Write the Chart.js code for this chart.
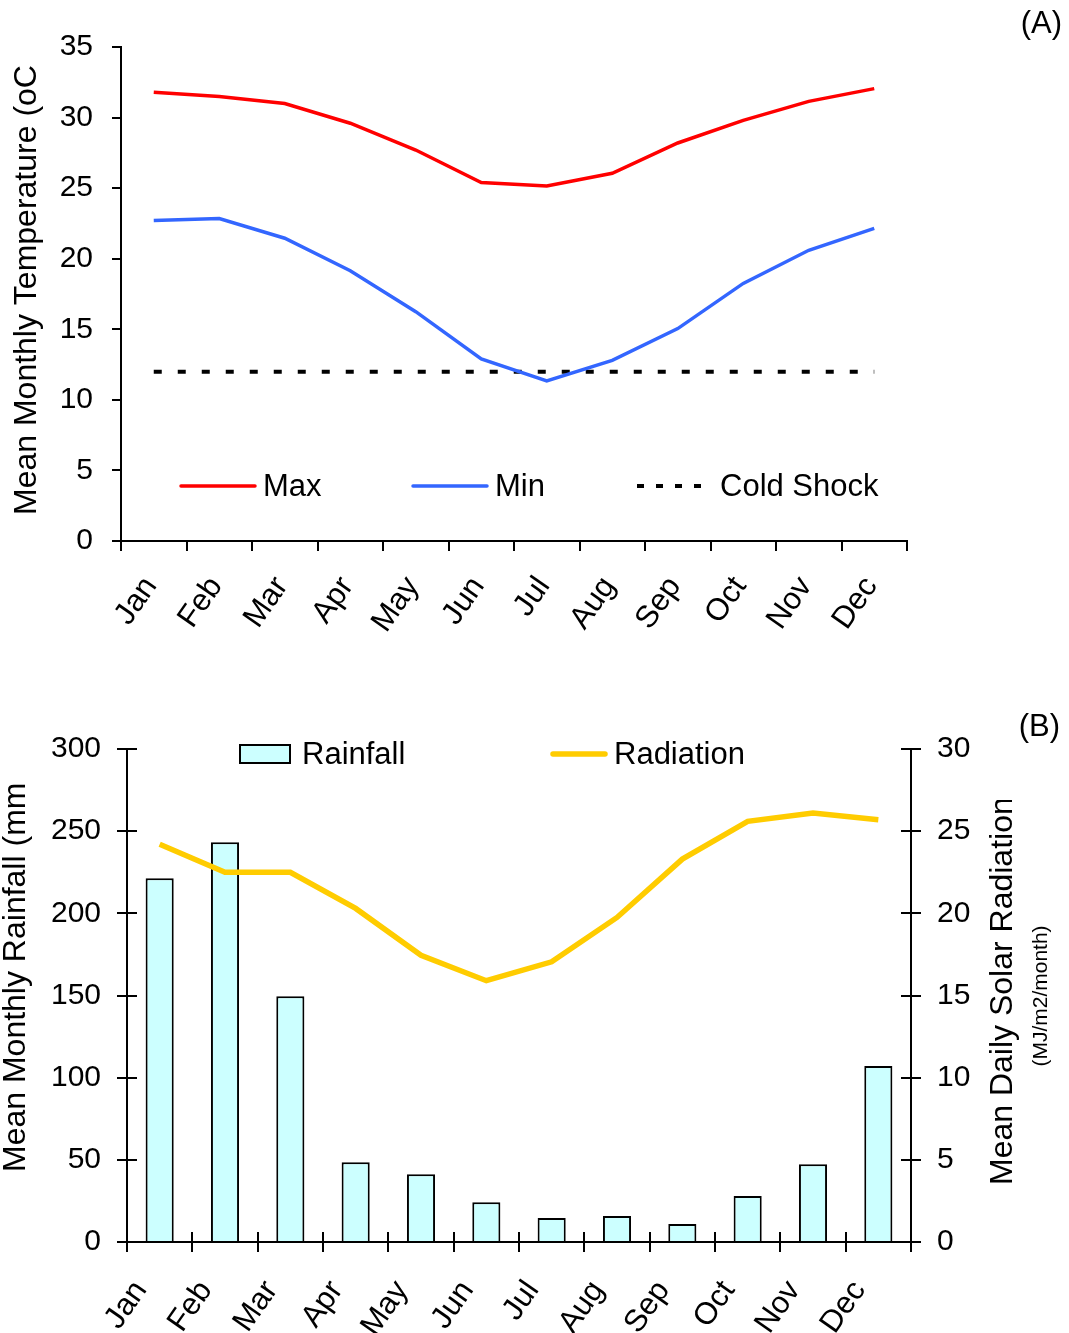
<!DOCTYPE html>
<html>
<head>
<meta charset="utf-8">
<script src="https://cdn.jsdelivr.net/npm/chart.js@4.4.1/dist/chart.umd.min.js"></script>
<style>
  html, body { margin: 0; padding: 0; background: #fff; }
  #wrap { position: relative; width: 1069px; height: 1333px; }
  .panel { position: absolute; left: 0; width: 1069px; }
</style>
</head>
<body>
<div id="wrap">
  <div class="panel" style="top:0;height:650px"><canvas id="tempChart"></canvas></div>
  <div class="panel" style="top:650px;height:683px"><canvas id="rainChart"></canvas></div>
</div>
<script>
// Monthly climate data
const months = ['Jan', 'Feb', 'Mar', 'Apr', 'May', 'Jun', 'Jul', 'Aug', 'Sep', 'Oct', 'Nov', 'Dec'];
const maxTemp = [31.8, 31.5, 31.0, 29.6, 27.7, 25.4, 25.15, 26.05, 28.2, 29.8, 31.15, 32.05];
const minTemp = [22.7, 22.85, 21.45, 19.15, 16.25, 12.9, 11.35, 12.8, 15.05, 18.25, 20.6, 22.15];
const coldShock = [12, 12, 12, 12, 12, 12, 12, 12, 12, 12, 12, 12];
const rainfall = [221.3, 243.2, 149.5, 48.5, 41.2, 24.2, 14.6, 15.8, 11.0, 28.0, 47.3, 107.1];
const radiation = [24.2, 22.5, 22.5, 20.3, 17.45, 15.9, 17.05, 19.75, 23.3, 25.6, 26.1, 25.7];

// Axis tick values
const tempTicks = [0, 5, 10, 15, 20, 25, 30, 35];
const rainTicks = [0, 50, 100, 150, 200, 250, 300];
const radTicks = [0, 5, 10, 15, 20, 25, 30];

const FONT = "'Liberation Sans', Arial, Helvetica, sans-serif";
Chart.defaults.font.family = FONT;
Chart.defaults.color = '#000';

const setTicks = list => scale => { scale.ticks = list.map(v => ({ value: v })); };

// Draws legend entries, rotated axis titles, panel tag and inward tick marks
const decor = {
  id: 'decor',
  afterDraw(chart, args, o) {
    const ctx = chart.ctx;
    const ca = chart.chartArea;
    ctx.save();
    if (o.innerTicks) {
      ctx.strokeStyle = '#000';
      ctx.lineWidth = 2;
      const xs = chart.scales.x;
      for (let i = 0; i <= xs.ticks.length; i++) {
        const px = Math.round(xs.getPixelForValue(i - 0.5));
        ctx.beginPath();
        ctx.moveTo(px, ca.bottom);
        ctx.lineTo(px, ca.bottom - o.innerTicks);
        ctx.stroke();
      }
      ['y', 'y2'].forEach(id => {
        const s = chart.scales[id];
        if (!s) return;
        const left = s.position === 'left';
        const ax = left ? ca.left : ca.right;
        s.ticks.forEach(t => {
          const py = Math.round(s.getPixelForValue(t.value));
          ctx.beginPath();
          ctx.moveTo(ax, py);
          ctx.lineTo(ax + (left ? 1 : -1) * o.innerTicks, py);
          ctx.stroke();
        });
      });
    }
    (o.legend || []).forEach(item => {
      const ds = chart.data.datasets[item.dataset];
      ctx.save();
      if (item.kind === 'box') {
        ctx.fillStyle = ds.backgroundColor;
        ctx.strokeStyle = ds.borderColor;
        ctx.lineWidth = ds.borderWidth;
        ctx.fillRect(item.x0, item.y - item.h / 2, item.x1 - item.x0, item.h);
        ctx.strokeRect(item.x0, item.y - item.h / 2, item.x1 - item.x0, item.h);
      } else {
        ctx.strokeStyle = ds.borderColor;
        ctx.lineWidth = ds.borderWidth;
        ctx.lineCap = item.cap || 'round';
        ctx.setLineDash(item.dash || []);
        ctx.beginPath();
        ctx.moveTo(item.x0, item.y);
        ctx.lineTo(item.x1, item.y);
        ctx.stroke();
      }
      ctx.restore();
      ctx.fillStyle = '#000';
      ctx.font = o.legendFont;
      ctx.textAlign = 'left';
      ctx.textBaseline = 'middle';
      ctx.fillText(ds.label, item.tx, item.y + 1);
    });
    (o.titles || []).forEach(t => {
      ctx.save();
      if (t.clipTop !== undefined) {
        ctx.beginPath();
        ctx.rect(0, t.clipTop, chart.width, chart.height - t.clipTop);
        ctx.clip();
      }
      ctx.translate(t.x, t.y);
      ctx.rotate(-Math.PI / 2);
      ctx.font = t.font;
      ctx.fillStyle = '#000';
      ctx.textAlign = t.align;
      ctx.textBaseline = 'middle';
      ctx.fillText(t.text, 0, 0);
      ctx.restore();
    });
    if (o.tag) {
      ctx.font = o.tag.font;
      ctx.fillStyle = '#000';
      ctx.textAlign = 'right';
      ctx.textBaseline = 'middle';
      ctx.fillText(o.tag.text, o.tag.x, o.tag.y);
    }
    ctx.restore();
  }
};

const tickFont = { family: FONT, size: 30 };
const monthFont = { family: FONT, size: 31 };
const axisBorder = { color: '#000', width: 2 };

// (A) temperature panel
new Chart(document.getElementById('tempChart'), {
  type: 'line',
  data: {
    labels: months,
    datasets: [
      { label: 'Max', data: maxTemp, borderColor: '#FF0000', borderWidth: 3.5, pointRadius: 0, tension: 0, fill: false },
      { label: 'Min', data: minTemp, borderColor: '#3366FF', borderWidth: 3.5, pointRadius: 0, tension: 0, fill: false },
      { label: 'Cold Shock', data: coldShock, borderColor: '#000000', borderWidth: 4, borderDash: [8, 16], borderCapStyle: 'butt', pointRadius: 0, tension: 0, fill: false }
    ]
  },
  options: {
    responsive: true,
    maintainAspectRatio: false,
    animation: false,
    layout: { padding: { top: 47, right: 162, left: 0, bottom: 0 } },
    plugins: {
      legend: { display: false },
      tooltip: { enabled: false },
      decor: {
        legendFont: `31px ${FONT}`,
        legend: [
          { dataset: 0, x0: 181, x1: 255, y: 486, tx: 263 },
          { dataset: 1, x0: 413, x1: 487, y: 486, tx: 495 },
          { dataset: 2, x0: 637, x1: 712, y: 486, tx: 720, dash: [7, 12], cap: 'butt' }
        ],
        titles: [
          { text: 'Mean Monthly Temperature (oC', x: 27, y: 515, align: 'left', font: `32px ${FONT}`, clipTop: 63 }
        ],
        tag: { text: '(A)', x: 1062, y: 24, font: `31px ${FONT}` }
      }
    },
    scales: {
      x: {
        offset: true,
        grid: { offset: true, drawOnChartArea: false, drawTicks: true, tickLength: 10, color: '#000', lineWidth: 2 },
        border: axisBorder,
        ticks: { font: monthFont, color: '#000', minRotation: 55, maxRotation: 55, padding: 19, labelOffset: -3, autoSkip: false },
        afterFit: s => { s.height = 109; }
      },
      y: {
        min: 0,
        max: 35,
        afterBuildTicks: setTicks(tempTicks),
        grid: { drawOnChartArea: false, drawTicks: true, tickLength: 9, color: '#000', lineWidth: 2 },
        border: axisBorder,
        ticks: { font: tickFont, color: '#000', padding: 19 },
        afterFit: s => { s.width = 121; }
      }
    }
  },
  plugins: [decor]
});

// (B) rainfall and radiation panel
new Chart(document.getElementById('rainChart'), {
  data: {
    labels: months,
    datasets: [
      { type: 'line', label: 'Radiation', data: radiation, yAxisID: 'y2', borderColor: '#FFCC00', borderWidth: 5.5, pointRadius: 0, tension: 0, fill: false, order: 0 },
      { type: 'bar', label: 'Rainfall', data: rainfall, yAxisID: 'y', backgroundColor: '#CCFFFF', borderColor: '#000000', borderWidth: 2, borderSkipped: 'start', barPercentage: 0.43, categoryPercentage: 1, order: 1 }
    ]
  },
  options: {
    responsive: true,
    maintainAspectRatio: false,
    animation: false,
    layout: { padding: { top: 99, right: 0, left: 0, bottom: 0 } },
    plugins: {
      legend: { display: false },
      tooltip: { enabled: false },
      decor: {
        innerTicks: 10,
        legendFont: `31px ${FONT}`,
        legend: [
          { dataset: 1, kind: 'box', x0: 240, x1: 290, y: 104, h: 18, tx: 302 },
          { dataset: 0, x0: 553, x1: 605, y: 104, tx: 614 }
        ],
        titles: [
          { text: 'Mean Monthly Rainfall (mm', x: 16, y: 522, align: 'left', font: `32px ${FONT}`, clipTop: 133 },
          { text: 'Mean Daily Solar Radiation', x: 1003, y: 535, align: 'left', font: `32px ${FONT}`, clipTop: 150 },
          { text: '(MJ/m2/month)', x: 1041, y: 346, align: 'center', font: `21px ${FONT}` }
        ],
        tag: { text: '(B)', x: 1060, y: 77, font: `31px ${FONT}` }
      }
    },
    scales: {
      x: {
        offset: true,
        grid: { offset: true, drawOnChartArea: false, drawTicks: true, tickLength: 10, color: '#000', lineWidth: 2 },
        border: axisBorder,
        ticks: { font: monthFont, color: '#000', minRotation: 55, maxRotation: 55, padding: 22, labelOffset: -19, autoSkip: false },
        afterFit: s => { s.height = 91; }
      },
      y: {
        position: 'left',
        min: 0,
        max: 300,
        afterBuildTicks: setTicks(rainTicks),
        grid: { drawOnChartArea: false, drawTicks: true, tickLength: 10, color: '#000', lineWidth: 2 },
        border: axisBorder,
        ticks: { font: tickFont, color: '#000', padding: 16 },
        afterFit: s => { s.width = 127; }
      },
      y2: {
        position: 'right',
        min: 0,
        max: 30,
        afterBuildTicks: setTicks(radTicks),
        grid: { drawOnChartArea: false, drawTicks: true, tickLength: 10, color: '#000', lineWidth: 2 },
        border: axisBorder,
        ticks: { font: tickFont, color: '#000', padding: 16 },
        afterFit: s => { s.width = 158; }
      }
    }
  },
  plugins: [decor]
});
</script>
</body>
</html>
